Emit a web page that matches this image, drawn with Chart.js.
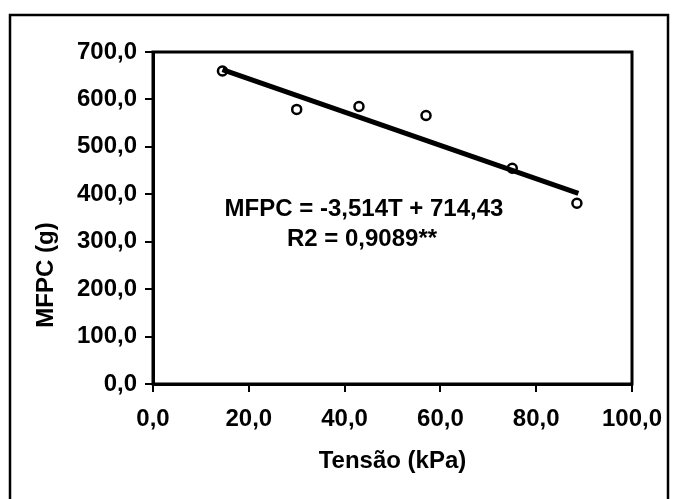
<!DOCTYPE html>
<html>
<head>
<meta charset="utf-8">
<script src="https://cdn.jsdelivr.net/npm/chart.js@4/dist/chart.umd.min.js"></script>
<style>
  html, body { margin: 0; padding: 0; background: #fff; }
  #wrap { position: relative; width: 676px; height: 499px; }
</style>
</head>
<body>
<div id="wrap"><canvas id="c" width="676" height="499"></canvas></div>
<script>
// Data
const tensao = [14.5, 30, 43, 57, 75, 88.5];          // Tensão (kPa)
const mfpc   = [660, 579, 585, 566, 455, 381];         // MFPC (g)
const trendX = [14.5, 88.8];                           // trend line ends (kPa)
const trendY = [663, 402];                             // trend line ends (g)
const xTickValues = [0, 20, 40, 60, 80, 100];
const yTickValues = [0, 100, 200, 300, 400, 500, 600, 700];
const xTitle = 'Tensão (kPa)';
const yTitle = 'MFPC (g)';
const equationLines = ['MFPC = -3,514T + 714,43', 'R2 = 0,9089**'];

const FONT = '"Liberation Sans", Arial, sans-serif';
const fmt = v => Number(v).toFixed(1).replace('.', ',');

const points = tensao.map((x, i) => ({ x, y: mfpc[i] }));
const trend = trendX.map((x, i) => ({ x, y: trendY[i] }));

const decor = {
  id: 'decor',
  beforeDraw(chart) {
    const ctx = chart.ctx;
    ctx.save();
    ctx.fillStyle = '#fff';
    ctx.fillRect(0, 0, chart.width, chart.height);
    // outer frame
    ctx.strokeStyle = '#000';
    ctx.lineWidth = 2.5;
    ctx.beginPath();
    ctx.moveTo(10, 510);
    ctx.lineTo(10, 15);
    ctx.lineTo(668, 15);
    ctx.lineTo(668, 510);
    ctx.stroke();
    ctx.restore();
  },
  afterDraw(chart) {
    const ctx = chart.ctx;
    const a = chart.chartArea;
    ctx.save();
    // plot-area frame
    ctx.strokeStyle = '#000';
    ctx.lineWidth = 3;
    ctx.strokeRect(a.left, a.top, a.right - a.left, a.bottom - a.top);
    ctx.fillStyle = '#000';
    ctx.font = 'bold 24px ' + FONT;
    ctx.textAlign = 'center';
    ctx.textBaseline = 'middle';
    // x title
    ctx.fillText(xTitle, (a.left + a.right) / 2, 461);
    // y title
    ctx.save();
    ctx.translate(46, 275);
    ctx.rotate(-Math.PI / 2);
    ctx.fillText(yTitle, 0, 0);
    ctx.restore();
    // regression equation
    ctx.font = 'bold 24px ' + FONT;
    ctx.fillText(equationLines[0], 364, 209);
    ctx.fillText(equationLines[1], 362, 239);
    ctx.restore();
  }
};

new Chart(document.getElementById('c'), {
  type: 'scatter',
  data: {
    datasets: [
      {
        type: 'line',
        data: trend,
        borderColor: '#000',
        borderWidth: 5,
        pointRadius: 0,
        fill: false,
        order: 0
      },
      {
        data: points,
        pointStyle: 'circle',
        pointRadius: 4.5,
        pointBorderWidth: 2.5,
        pointBorderColor: '#000',
        pointBackgroundColor: '#fff',
        order: 1
      }
    ]
  },
  options: {
    responsive: false,
    animation: false,
    layout: { padding: { left: 10, right: 44, top: 52, bottom: 0 } },
    plugins: { legend: { display: false }, tooltip: { enabled: false } },
    scales: {
      x: {
        type: 'linear',
        min: 0, max: 100,
        afterBuildTicks: s => { s.ticks = xTickValues.map(v => ({ value: v })); },
        afterFit: s => { s.height = 115; },
        ticks: { callback: fmt, color: '#000', padding: 13, maxRotation: 0,
                 font: { family: FONT, size: 24, weight: 'bold' } },
        grid: { drawOnChartArea: false, drawTicks: true, tickLength: 8, color: '#000', lineWidth: 2 },
        border: { display: true, color: '#000', width: 3 }
      },
      y: {
        type: 'linear',
        min: 0, max: 700,
        afterBuildTicks: s => { s.ticks = yTickValues.map(v => ({ value: v })); },
        afterFit: s => { s.width = 143; },
        ticks: { callback: fmt, color: '#000', padding: 8,
                 font: { family: FONT, size: 24, weight: 'bold' } },
        grid: { drawOnChartArea: false, drawTicks: true, tickLength: 8, color: '#000', lineWidth: 2 },
        border: { display: true, color: '#000', width: 3 }
      }
    }
  },
  plugins: [decor]
});
</script>
</body>
</html>
